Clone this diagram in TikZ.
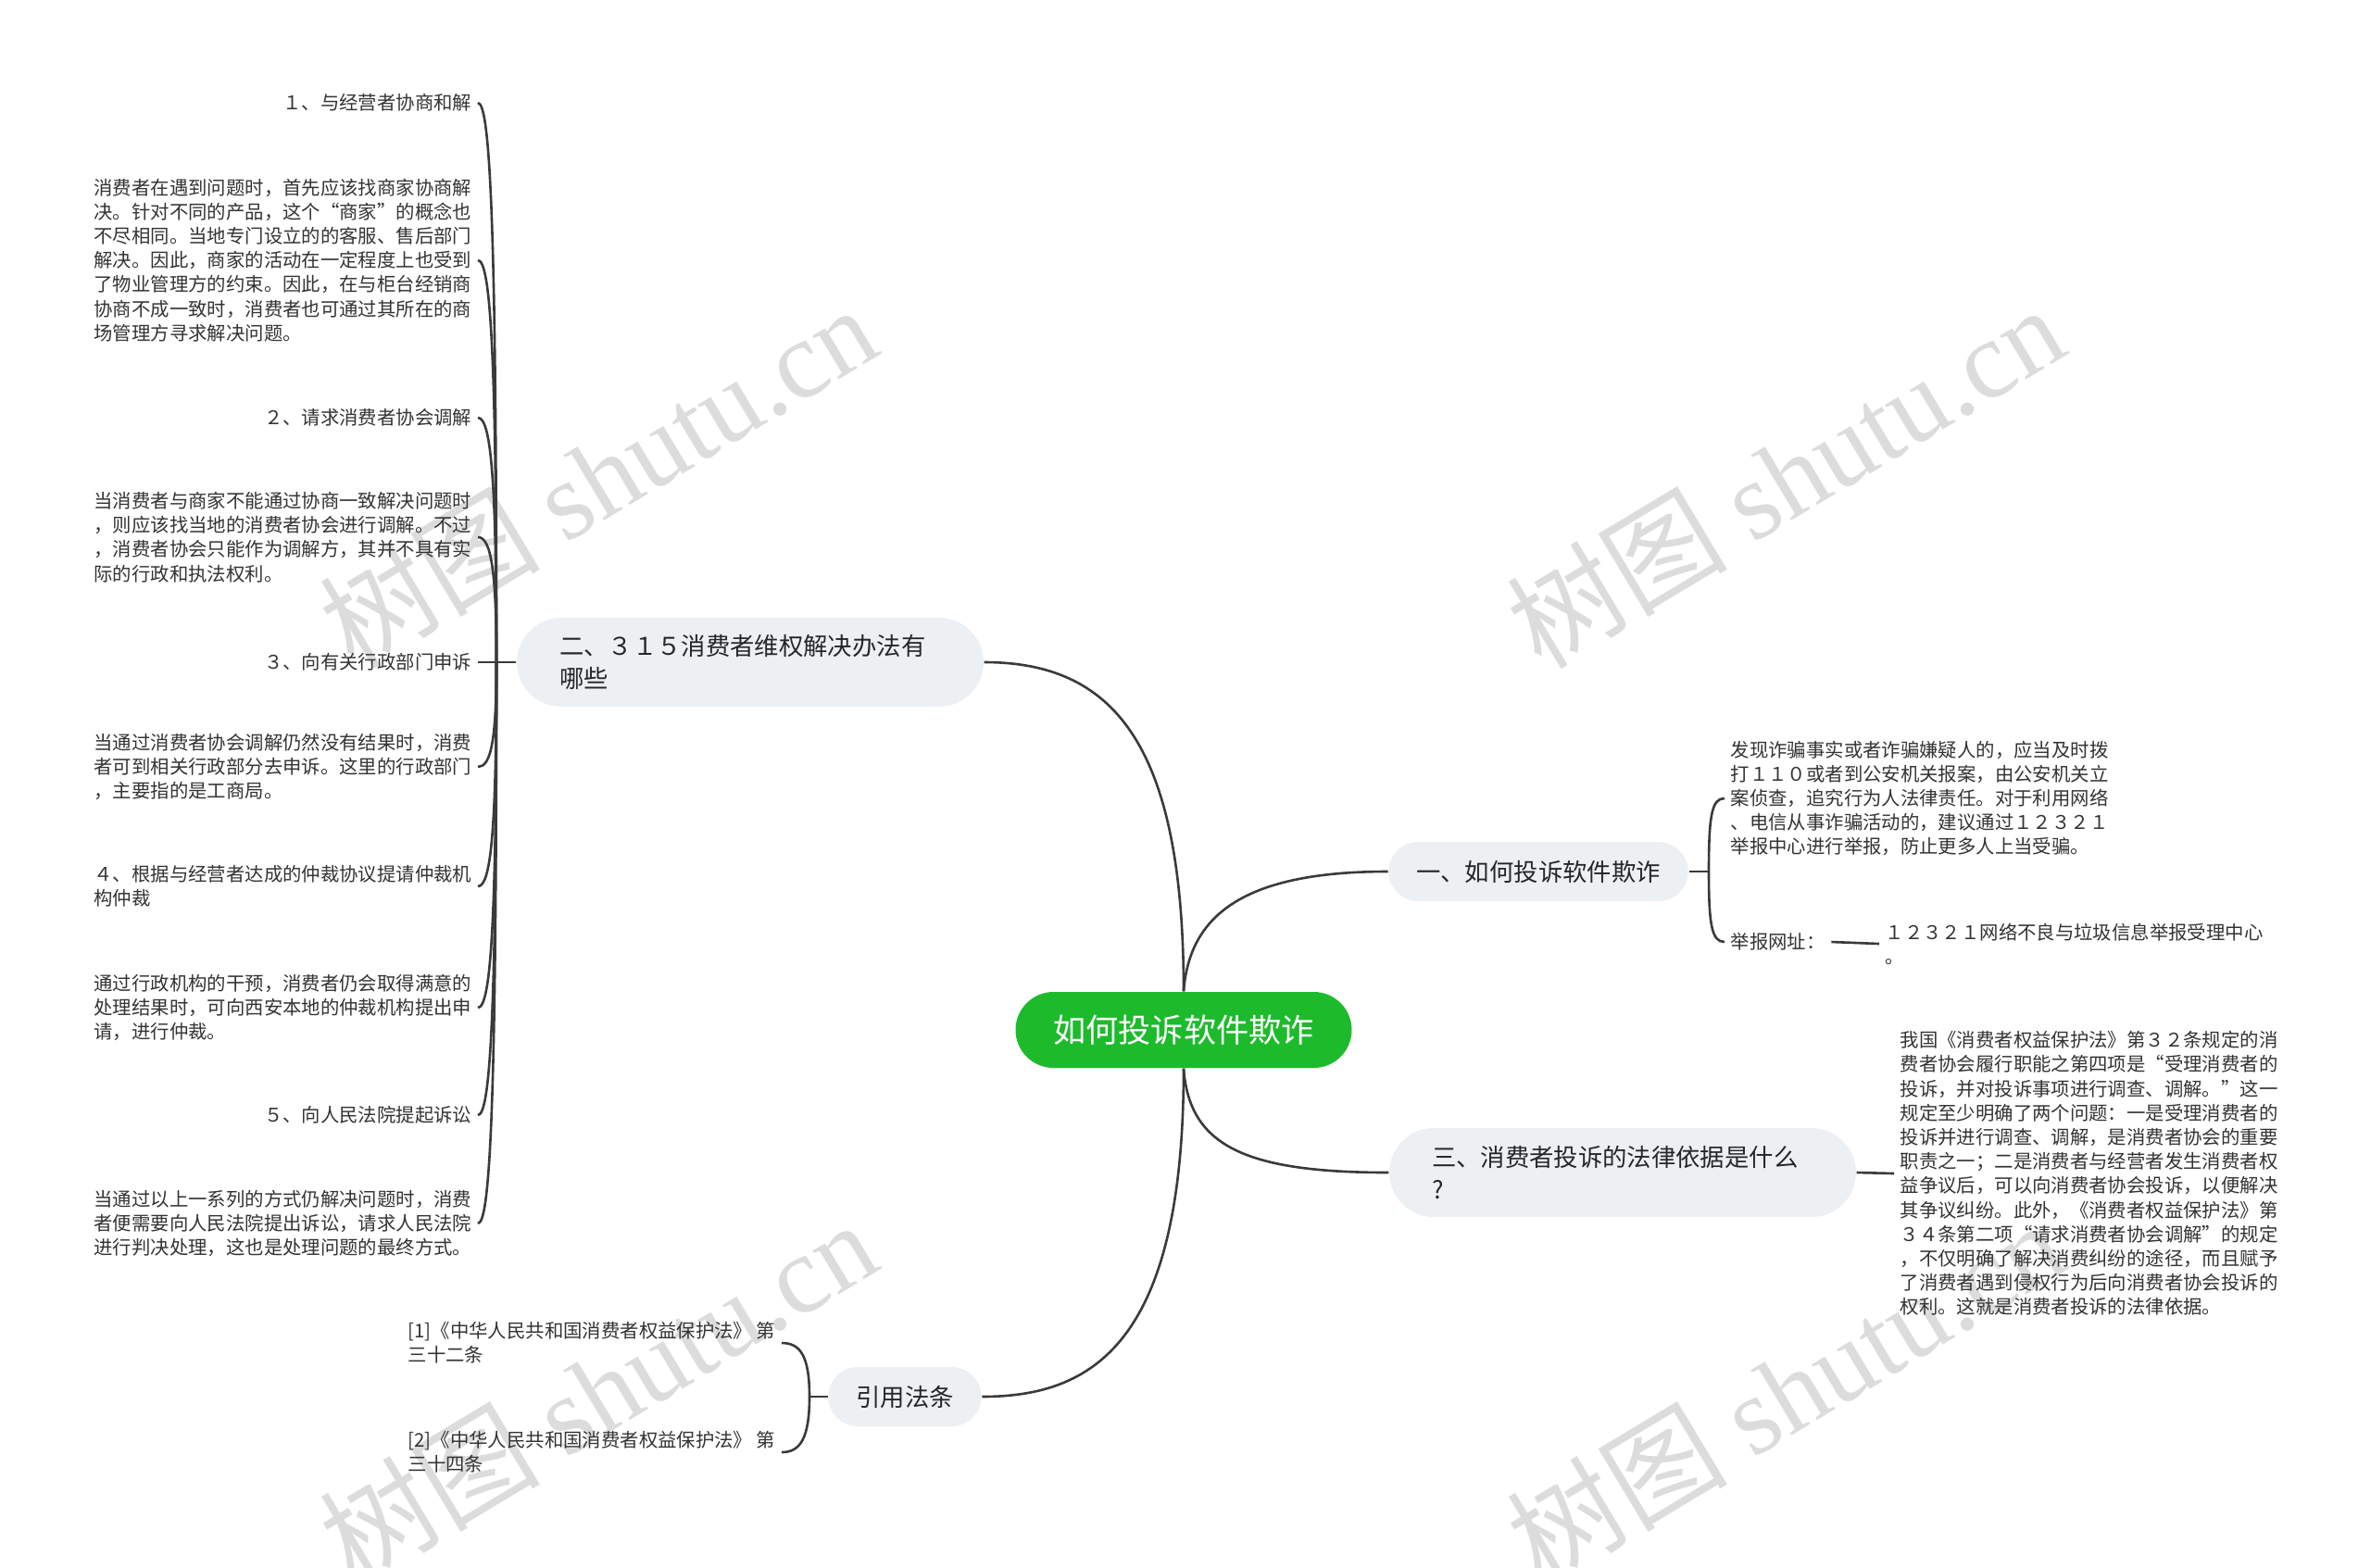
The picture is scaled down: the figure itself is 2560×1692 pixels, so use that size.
\documentclass[tikz,border=0pt]{standalone}
\usepackage{fontspec}
\setmainfont{Noto Sans CJK SC}
\newfontfamily\wmserif{Liberation Serif}
\usetikzlibrary{positioning}
\definecolor{leafink}{HTML}{333333}
\definecolor{edgeink}{HTML}{3A3A3A}
\definecolor{topicfill}{HTML}{EDF0F3}
\definecolor{rootfill}{HTML}{1DBB2C}
\definecolor{wmgray}{HTML}{DCDCDC}

\begin{document}
\begin{tikzpicture}[
  x=0.1mm, y=-0.1mm,
  root/.style={rectangle, rounded corners=4.1mm, fill=rootfill, text=white,
              font=\fontsize{10pt}{12pt}\selectfont, minimum width=36.3mm,
              minimum height=8.2mm, inner sep=0pt},
  topic/.style={rectangle, fill=topicfill, text=black!85,
              font=\fontsize{7.5pt}{9.7pt}\selectfont, inner sep=0pt},
  shorttopic/.style={topic, rounded corners=3.2mm, minimum height=6.4mm, inner xsep=3mm},
  longtopic/.style={topic, rounded corners=4.8mm, minimum height=9.6mm,
              text width=41.2mm, align=left, inner xsep=4.6mm},
  leaf/.style={inner xsep=0.6mm, inner ysep=0.3mm, text=leafink,
              font=\fontsize{5.8pt}{7.45pt}\selectfont},
  leftleaf/.style={leaf, anchor=east, align=left},
  rightleaf/.style={leaf, anchor=west, align=left},
  link/.style={draw=edgeink, line width=0.26mm},
  wmark/.style={text=wmgray, rotate=31, font=\fontsize{34pt}{36pt}\selectfont}
]
  \fill[white] (0,0) rectangle (2560,1692);
  \useasboundingbox (0,0) rectangle (2560,1692);

  % watermarks
  \node[wmark] (wm1) at (645,514) {树图 {\wmserif shutu.cn}};
  \node[wmark] (wm2) at (1927,514) {树图 {\wmserif shutu.cn}};
  \node[wmark] (wm3) at (645,1502) {树图 {\wmserif shutu.cn}};
  \node[wmark] (wm4) at (1927,1502) {树图 {\wmserif shutu.cn}};

  % main topics
  \node[root] (root) at (1278,1112) {如何投诉软件欺诈};
  \node[longtopic] (ways) at (810,715) {二、３１５消费者维权解决办法有\\哪些};
  \node[shorttopic] (fraud) at (1661,941) {一、如何投诉软件欺诈};
  \node[longtopic] (basis) at (1752,1266) {三、消费者投诉的法律依据是什么\\?};
  \node[shorttopic] (cites) at (977,1508) {引用法条};

  % left branch
  \coordinate (waysj) at (536,715);
  \node[leftleaf] (way1) at (516,111) {１、与经营者协商和解};
  \node[leftleaf] (way1txt) at (516,281) {消费者在遇到问题时，首先应该找商家协商解\\决。针对不同的产品，这个“商家”的概念也\\不尽相同。当地专门设立的的客服、售后部门\\解决。因此，商家的活动在一定程度上也受到\\了物业管理方的约束。因此，在与柜台经销商\\协商不成一致时，消费者也可通过其所在的商\\场管理方寻求解决问题。};
  \node[leftleaf] (way2) at (516,451) {２、请求消费者协会调解};
  \node[leftleaf] (way2txt) at (516,580) {当消费者与商家不能通过协商一致解决问题时\\，则应该找当地的消费者协会进行调解。不过\\，消费者协会只能作为调解方，其并不具有实\\际的行政和执法权利。};
  \node[leftleaf] (way3) at (516,715) {３、向有关行政部门申诉};
  \node[leftleaf] (way3txt) at (516,828) {当通过消费者协会调解仍然没有结果时，消费\\者可到相关行政部分去申诉。这里的行政部门\\，主要指的是工商局。};
  \node[leftleaf] (way4) at (516,957) {４、根据与经营者达成的仲裁协议提请仲裁机\\构仲裁};
  \node[leftleaf] (way4txt) at (516,1088) {通过行政机构的干预，消费者仍会取得满意的\\处理结果时，可向西安本地的仲裁机构提出申\\请，进行仲裁。};
  \node[leftleaf] (way5) at (516,1204) {５、向人民法院提起诉讼};
  \node[leftleaf] (way5txt) at (516,1321) {当通过以上一系列的方式仍解决问题时，消费\\者便需要向人民法院提出诉讼，请求人民法院\\进行判决处理，这也是处理问题的最终方式。};

  % right branches
  \coordinate (fraudj) at (1845,941);
  \node[rightleaf] (report) at (1862,862) {发现诈骗事实或者诈骗嫌疑人的，应当及时拨\\打１１０或者到公安机关报案，由公安机关立\\案侦查，追究行为人法律责任。对于利用网络\\、电信从事诈骗活动的，建议通过１２３２１\\举报中心进行举报，防止更多人上当受骗。};
  \node[rightleaf] (site) at (1862,1017) {举报网址：};
  \node[rightleaf] (sitename) at (2029,1019) {１２３２１网络不良与垃圾信息举报受理中心\\。};
  \node[rightleaf] (law) at (2045,1267) {我国《消费者权益保护法》第３２条规定的消\\费者协会履行职能之第四项是“受理消费者的\\投诉，并对投诉事项进行调查、调解。”这一\\规定至少明确了两个问题：一是受理消费者的\\投诉并进行调查、调解，是消费者协会的重要\\职责之一；二是消费者与经营者发生消费者权\\益争议后，可以向消费者协会投诉，以便解决\\其争议纠纷。此外，《消费者权益保护法》第\\３４条第二项“请求消费者协会调解”的规定\\，不仅明确了解决消费纠纷的途径，而且赋予\\了消费者遇到侵权行为后向消费者协会投诉的\\权利。这就是消费者投诉的法律依据。};

  % citations
  \coordinate (citesj) at (874,1508);
  \node[leftleaf] (cite1) at (844,1450) {[1]《中华人民共和国消费者权益保护法》 第\\三十二条};
  \node[leftleaf] (cite2) at (844,1568) {[2]《中华人民共和国消费者权益保护法》 第\\三十四条};

  % root links
  \draw[link] (root.north) .. controls (1278,800) and (1200,715) .. (ways.east);
  \draw[link] (root.north) .. controls (1284,990) and (1340,941) .. (fraud.west);
  \draw[link] (root.south) .. controls (1284,1235) and (1340,1266) .. (basis.west);
  \draw[link] (root.south) .. controls (1278,1450) and (1180,1508) .. (cites.east);

  % left bracket
  \draw[link] (ways.west) -- (waysj);
  \draw[link] (waysj) .. controls +(0,-450) and +(14,0) .. (way1.east);
  \draw[link] (waysj) .. controls +(0,-325) and +(14,0) .. (way1txt.east);
  \draw[link] (waysj) .. controls +(0,-198) and +(14,0) .. (way2.east);
  \draw[link] (waysj) .. controls +(0,-100) and +(14,0) .. (way2txt.east);
  \draw[link] (waysj) -- (way3.east);
  \draw[link] (waysj) .. controls +(0,85) and +(14,0) .. (way3txt.east);
  \draw[link] (waysj) .. controls +(0,182) and +(14,0) .. (way4.east);
  \draw[link] (waysj) .. controls +(0,280) and +(14,0) .. (way4txt.east);
  \draw[link] (waysj) .. controls +(0,367) and +(14,0) .. (way5.east);
  \draw[link] (waysj) .. controls +(0,455) and +(14,0) .. (way5txt.east);

  % right brackets
  \draw[link] (fraud.east) -- (fraudj);
  \draw[link] (fraudj) .. controls +(0,-60) and +(-14,0) .. (report.west);
  \draw[link] (fraudj) .. controls +(0,57) and +(-14,0) .. (site.west);
  \draw[link] (site.east) -- (sitename.west);
  \draw[link] (basis.east) -- (law.west);

  \draw[link] (cites.west) -- (citesj);
  \draw[link] (citesj) .. controls +(0,-44) and +(20,0) .. (cite1.east);
  \draw[link] (citesj) .. controls +(0,45) and +(20,0) .. (cite2.east);
\end{tikzpicture}
\end{document}
